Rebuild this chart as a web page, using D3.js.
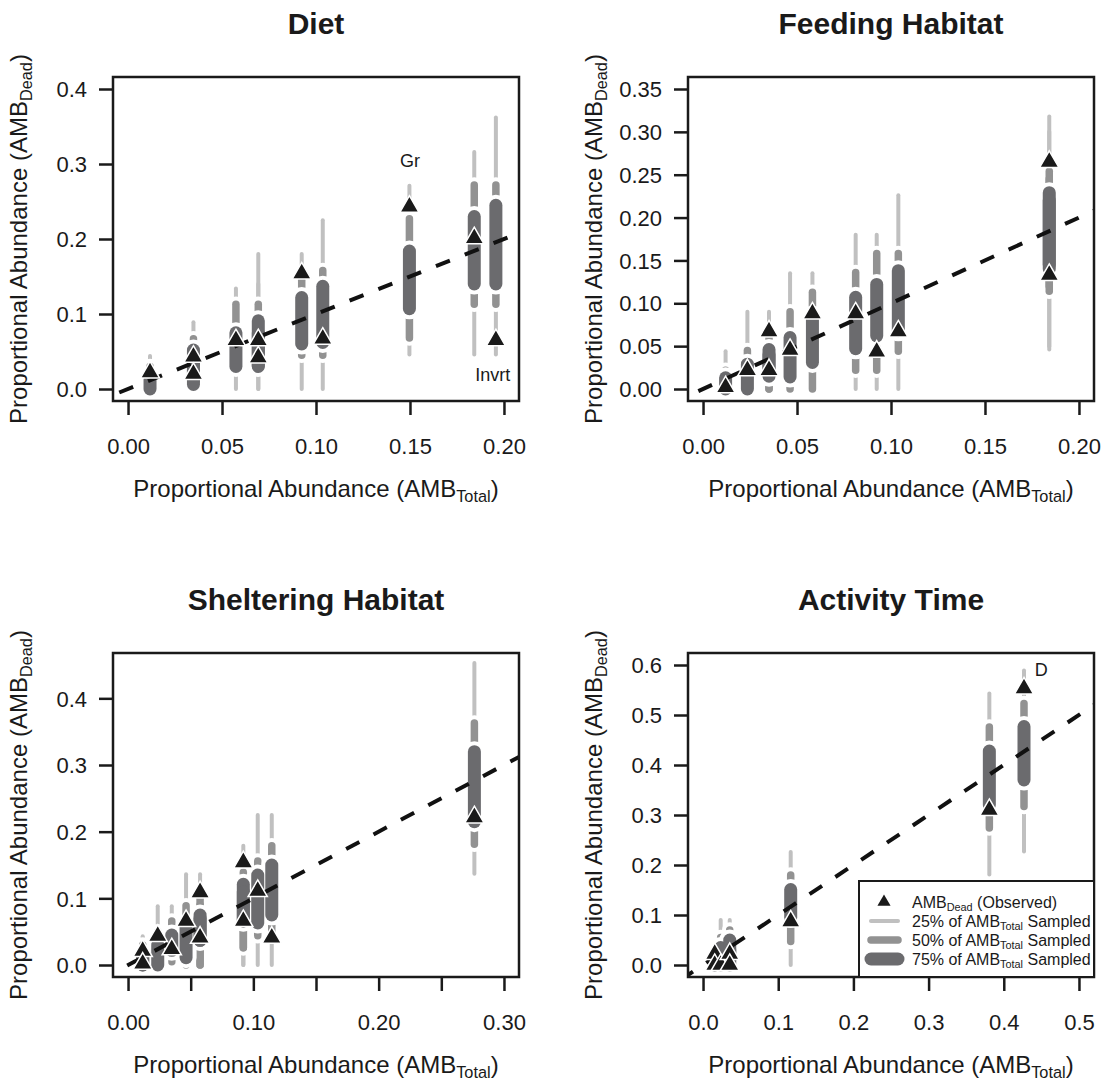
<!DOCTYPE html>
<html>
<head>
<meta charset="utf-8">
<title>AMB proportional abundance</title>
<script src="https://cdn.jsdelivr.net/npm/d3@7"></script>
<style>
  body { margin: 0; background: #fff; }
  svg { font-family: "Liberation Sans", Arial, Helvetica, sans-serif; }
</style>
</head>
<body>
<div id="chart"></div>
<script>
// ---- data ----
// per category: AMB_Total, observed AMB_Dead, and the [low, high] range of AMB_Dead
// when 25%, 50% and 75% of AMB_Total is sampled

// Diet
var dietTotal = [0.0117, 0.0348, 0.0348, 0.0574, 0.0693, 0.0693, 0.0924, 0.1036, 0.1497, 0.1842, 0.1957];
var dietDead  = [0.022, 0.043, 0.020, 0.065, 0.065, 0.042, 0.154, 0.067, 0.243, 0.201, 0.065];
var diet25 = [[0, 0.044], [0, 0.089], [0, 0.070], [0, 0.134], [0, 0.180], [0, 0.140], [0, 0.180], [0, 0.225], [0.046, 0.271], [0.046, 0.316], [0.046, 0.362]];
var diet50 = [[0, 0.030], [0, 0.067], [0, 0.050], [0.028, 0.113], [0.030, 0.113], [0.028, 0.090], [0.045, 0.145], [0.045, 0.158], [0.068, 0.227], [0.113, 0.272], [0.113, 0.272]];
var diet75 = [[0, 0.012], [0.012, 0.052], [0.006, 0.036], [0.030, 0.075], [0.031, 0.091], [0.030, 0.075], [0.060, 0.122], [0.062, 0.137], [0.107, 0.184], [0.140, 0.230], [0.140, 0.245]];
var dietNotes = [{text: "Gr", x: 0.150, y: 0.305}, {text: "Invrt", x: 0.194, y: 0.019}];

// Feeding habitat
var feedTotal = [0.012, 0.0236, 0.0351, 0.0351, 0.0463, 0.0582, 0.0812, 0.0924, 0.1039, 0.1842, 0.1842];
var feedDead  = [0.002, 0.022, 0.067, 0.022, 0.0455, 0.088, 0.088, 0.0435, 0.067, 0.265, 0.133];
var feed25 = [[0, 0.044], [0, 0.090], [0, 0.090], [0, 0.070], [0, 0.135], [0, 0.135], [0, 0.180], [0, 0.180], [0, 0.226], [0.046, 0.318], [0.050, 0.300]];
var feed50 = [[0, 0.022], [0, 0.045], [0, 0.062], [0, 0.050], [0, 0.090], [0, 0.113], [0.022, 0.136], [0.022, 0.158], [0.044, 0.158], [0.114, 0.254], [0.120, 0.245]];
var feed75 = [[0, 0.013], [0, 0.029], [0.018, 0.046], [0.015, 0.040], [0.014, 0.060], [0.031, 0.085], [0.047, 0.107], [0.062, 0.122], [0.068, 0.138], [0.140, 0.229], [0.145, 0.220]];
var feedNotes = [];

// Sheltering habitat
var shelTotal = [0.0117, 0.0117, 0.0237, 0.0349, 0.0463, 0.0575, 0.0575, 0.092, 0.092, 0.1035, 0.1147, 0.2764];
var shelDead  = [0.021, 0.002, 0.0436, 0.0236, 0.066, 0.109, 0.041, 0.154, 0.066, 0.111, 0.041, 0.2215];
var shel25 = [[0, 0.043], [0, 0.040], [0, 0.088], [0, 0.088], [0, 0.136], [0, 0.136], [0, 0.120], [0, 0.179], [0, 0.150], [0, 0.225], [0, 0.225], [0.137, 0.453]];
var shel50 = [[0, 0.030], [0, 0.025], [0, 0.050], [0.005, 0.066], [0, 0.089], [0, 0.100], [0, 0.090], [0.026, 0.139], [0.026, 0.120], [0.044, 0.156], [0.045, 0.179], [0.181, 0.363]];
var shel75 = [[0, 0.015], [0, 0.012], [0, 0.030], [0.022, 0.045], [0.011, 0.060], [0.037, 0.075], [0.037, 0.070], [0.066, 0.121], [0.066, 0.110], [0.063, 0.135], [0.075, 0.150], [0.215, 0.320]];
var shelNotes = [];

// Activity time
var actTotal = [0.0155, 0.0155, 0.0235, 0.0355, 0.0355, 0.1166, 0.3808, 0.4269];
var actDead  = [0.022, 0.0, 0.0, 0.022, 0.0, 0.087, 0.310, 0.553];
var act25 = [[0, 0.045], [0, 0.040], [0, 0.090], [0, 0.090], [0, 0.050], [0, 0.226], [0.181, 0.543], [0.227, 0.589]];
var act50 = [[0, 0.030], [0, 0.025], [0, 0.055], [0.005, 0.070], [0, 0.040], [0.047, 0.180], [0.274, 0.476], [0.317, 0.523]];
var act75 = [[0, 0.015], [0, 0.012], [0, 0.035], [0.010, 0.050], [0, 0.030], [0.095, 0.151], [0.320, 0.428], [0.370, 0.477]];
var actNotes = [{text: "D", x: 0.450, y: 0.590}];

// axes
var xTicksA = [0, 0.05, 0.10, 0.15, 0.20];
var xLabelsA = ["0.00", "0.05", "0.10", "0.15", "0.20"];
var xTicksS = [0, 0.05, 0.10, 0.15, 0.20, 0.25, 0.30];
var xLabelsS = ["0.00", "", "0.10", "", "0.20", "", "0.30"];
var xTicksT = [0, 0.1, 0.2, 0.3, 0.4, 0.5];
var xLabelsT = ["0.0", "0.1", "0.2", "0.3", "0.4", "0.5"];
var yTicksD = [0, 0.1, 0.2, 0.3, 0.4];
var yLabelsD = ["0.0", "0.1", "0.2", "0.3", "0.4"];
var yTicksF = [0, 0.05, 0.10, 0.15, 0.20, 0.25, 0.30, 0.35];
var yLabelsF = ["0.00", "0.05", "0.10", "0.15", "0.20", "0.25", "0.30", "0.35"];
var yTicksT = [0, 0.1, 0.2, 0.3, 0.4, 0.5, 0.6];
var yLabelsT = ["0.0", "0.1", "0.2", "0.3", "0.4", "0.5", "0.6"];

var legendItems = [
  {type: "point", main: "AMB", sub: "Dead", rest: " (Observed)"},
  {type: "line", level: 0, main: "25% of AMB", sub: "Total", rest: " Sampled"},
  {type: "line", level: 1, main: "50% of AMB", sub: "Total", rest: " Sampled"},
  {type: "line", level: 2, main: "75% of AMB", sub: "Total", rest: " Sampled"}
];

// ---- layout / style ----
var width = 1112, height = 1082;
var boxW = 406, boxH = 324;
var levels = [
  {color: "#c0c0c0", w: 4,   outline: false},
  {color: "#929292", w: 7.5, outline: true},
  {color: "#6b6b6e", w: 13,  outline: true}
];

var panels = [
  {title: "Diet", left: 113, top: 77, total: dietTotal, dead: dietDead, ranges: [diet25, diet50, diet75],
   xMax: 0.2, yMax: 0.4, xTicks: xTicksA, xLabels: xLabelsA, yTicks: yTicksD, yLabels: yLabelsD, notes: dietNotes},
  {title: "Feeding Habitat", left: 688, top: 77, total: feedTotal, dead: feedDead, ranges: [feed25, feed50, feed75],
   xMax: 0.2, yMax: 0.35, xTicks: xTicksA, xLabels: xLabelsA, yTicks: yTicksF, yLabels: yLabelsF, notes: feedNotes},
  {title: "Sheltering Habitat", left: 113, top: 653, total: shelTotal, dead: shelDead, ranges: [shel25, shel50, shel75],
   xMax: 0.3, yMax: 0.45, xTicks: xTicksS, xLabels: xLabelsS, yTicks: yTicksD, yLabels: yLabelsD, notes: shelNotes},
  {title: "Activity Time", left: 688, top: 653, total: actTotal, dead: actDead, ranges: [act25, act50, act75],
   xMax: 0.5, yMax: 0.6, xTicks: xTicksT, xLabels: xLabelsT, yTicks: yTicksT, yLabels: yLabelsT, notes: actNotes, legend: true}
];

var svg = d3.select("#chart").append("svg")
    .attr("width", width)
    .attr("height", height);

// text with a lowered subscript in the middle
function subText(sel, main, sub, rest, size) {
  var subSize = size * 0.68, shift = size * 0.2;
  sel.append("tspan").text(main);
  sel.append("tspan").attr("font-size", subSize).attr("dy", shift).text(sub);
  sel.append("tspan").attr("dy", -shift).text(rest);
}

var tri = d3.symbol().type(d3.symbolTriangle);

panels.forEach(function (p, pi) {
  var g = svg.append("g");
  var right = p.left + boxW, bottom = p.top + boxH;

  var x = d3.scaleLinear().domain([-0.04 * p.xMax, 1.04 * p.xMax]).range([p.left, right]);
  var y = d3.scaleLinear().domain([-0.04 * p.yMax, 1.04 * p.yMax]).range([bottom, p.top]);

  var clipId = "clip" + pi;
  g.append("clipPath").attr("id", clipId)
    .append("rect").attr("x", p.left).attr("y", p.top).attr("width", boxW).attr("height", boxH);
  var plot = g.append("g").attr("clip-path", "url(#" + clipId + ")");

  // sampled ranges, widest first
  levels.forEach(function (lv, li) {
    var r = p.ranges[li];
    if (lv.outline) {
      plot.selectAll(null).data(r).enter().append("line")
        .attr("x1", function (d, i) { return x(p.total[i]); })
        .attr("x2", function (d, i) { return x(p.total[i]); })
        .attr("y1", function (d) { return y(d[0]); })
        .attr("y2", function (d) { return y(d[1]); })
        .attr("stroke", "#fff").attr("stroke-width", lv.w + 8)
        .attr("stroke-linecap", "round");
    }
    plot.selectAll(null).data(r).enter().append("line")
      .attr("x1", function (d, i) { return x(p.total[i]); })
      .attr("x2", function (d, i) { return x(p.total[i]); })
      .attr("y1", function (d) { return y(d[0]); })
      .attr("y2", function (d) { return y(d[1]); })
      .attr("stroke", lv.color).attr("stroke-width", lv.w)
      .attr("stroke-linecap", "round");
  });

  // 1:1 reference line, over the ranges
  var lim = [-0.05 * Math.max(p.xMax, p.yMax), 1.1 * Math.max(p.xMax, p.yMax)];
  plot.append("line")
    .attr("x1", x(lim[0])).attr("y1", y(lim[0]))
    .attr("x2", x(lim[1])).attr("y2", y(lim[1]))
    .attr("stroke", "#111").attr("stroke-width", 4)
    .attr("stroke-dasharray", "15,16");

  // observed values
  plot.selectAll(null).data(p.dead).enter().append("path")
    .attr("d", tri.size(160)())
    .attr("transform", function (d, i) { return "translate(" + x(p.total[i]) + "," + y(d) + ")"; })
    .attr("fill", "#1a1a1a").attr("stroke", "#fff").attr("stroke-width", 1.5);

  g.selectAll(null).data(p.notes).enter().append("text")
    .attr("x", function (d) { return x(d.x); })
    .attr("y", function (d) { return y(d.y); })
    .attr("dy", "0.35em")
    .attr("text-anchor", "middle")
    .attr("font-size", 18)
    .attr("fill", "#1a1a1a")
    .text(function (d) { return d.text; });

  // axes
  var xa = g.append("g").attr("transform", "translate(0," + bottom + ")")
    .call(d3.axisBottom(x).tickValues(p.xTicks)
      .tickFormat(function (d, i) { return p.xLabels[i]; })
      .tickSize(14).tickPadding(23));
  var ya = g.append("g").attr("transform", "translate(" + p.left + ",0)")
    .call(d3.axisLeft(y).tickValues(p.yTicks)
      .tickFormat(function (d, i) { return p.yLabels[i]; })
      .tickSize(14).tickPadding(12));
  [xa, ya].forEach(function (a) {
    a.select(".domain").remove();
    a.selectAll("line").attr("stroke", "#1a1a1a").attr("stroke-width", 2.5);
    a.selectAll("text").attr("font-size", 22).attr("fill", "#1a1a1a");
    a.attr("font-family", null);
  });
  ya.selectAll("text").attr("dy", "0.35em");

  g.append("rect")
    .attr("x", p.left).attr("y", p.top).attr("width", boxW).attr("height", boxH)
    .attr("fill", "none").attr("stroke", "#1a1a1a").attr("stroke-width", 2.5);

  // titles and labels
  g.append("text")
    .attr("x", p.left + boxW / 2).attr("y", p.top - 43)
    .attr("text-anchor", "middle")
    .attr("font-size", 30).attr("font-weight", "bold").attr("fill", "#1a1a1a")
    .text(p.title);

  var xl = g.append("text")
    .attr("x", p.left + boxW / 2).attr("y", bottom + 96)
    .attr("text-anchor", "middle").attr("font-size", 24).attr("fill", "#1a1a1a");
  subText(xl, "Proportional Abundance (AMB", "Total", ")", 24);

  var yl = g.append("text")
    .attr("transform", "translate(" + (p.left - 86) + "," + (p.top + boxH / 2) + ") rotate(-90)")
    .attr("text-anchor", "middle").attr("font-size", 24).attr("fill", "#1a1a1a");
  subText(yl, "Proportional Abundance (AMB", "Dead", ")", 24);

  // legend (bottom right of last panel)
  if (p.legend) {
    var lw = 235, lh = 96;
    var lg = g.append("g").attr("transform", "translate(" + (right - lw) + "," + (bottom - lh) + ")");
    lg.append("rect").attr("width", lw).attr("height", lh)
      .attr("fill", "#fff").attr("stroke", "#1a1a1a").attr("stroke-width", 2);
    legendItems.forEach(function (it, k) {
      var cy = 21 + k * 19;
      if (it.type === "point") {
        lg.append("path").attr("d", tri.size(75)())
          .attr("transform", "translate(25," + cy + ")")
          .attr("fill", "#1a1a1a");
      } else {
        var lv = levels[it.level];
        lg.append("line").attr("x1", 12).attr("x2", 39).attr("y1", cy).attr("y2", cy)
          .attr("stroke", lv.color).attr("stroke-width", lv.w).attr("stroke-linecap", "round");
      }
      var t = lg.append("text").attr("x", 53).attr("y", cy + 6)
        .attr("font-size", 16).attr("fill", "#1a1a1a");
      subText(t, it.main, it.sub, it.rest, 16);
    });
  }
});
</script>
</body>
</html>
